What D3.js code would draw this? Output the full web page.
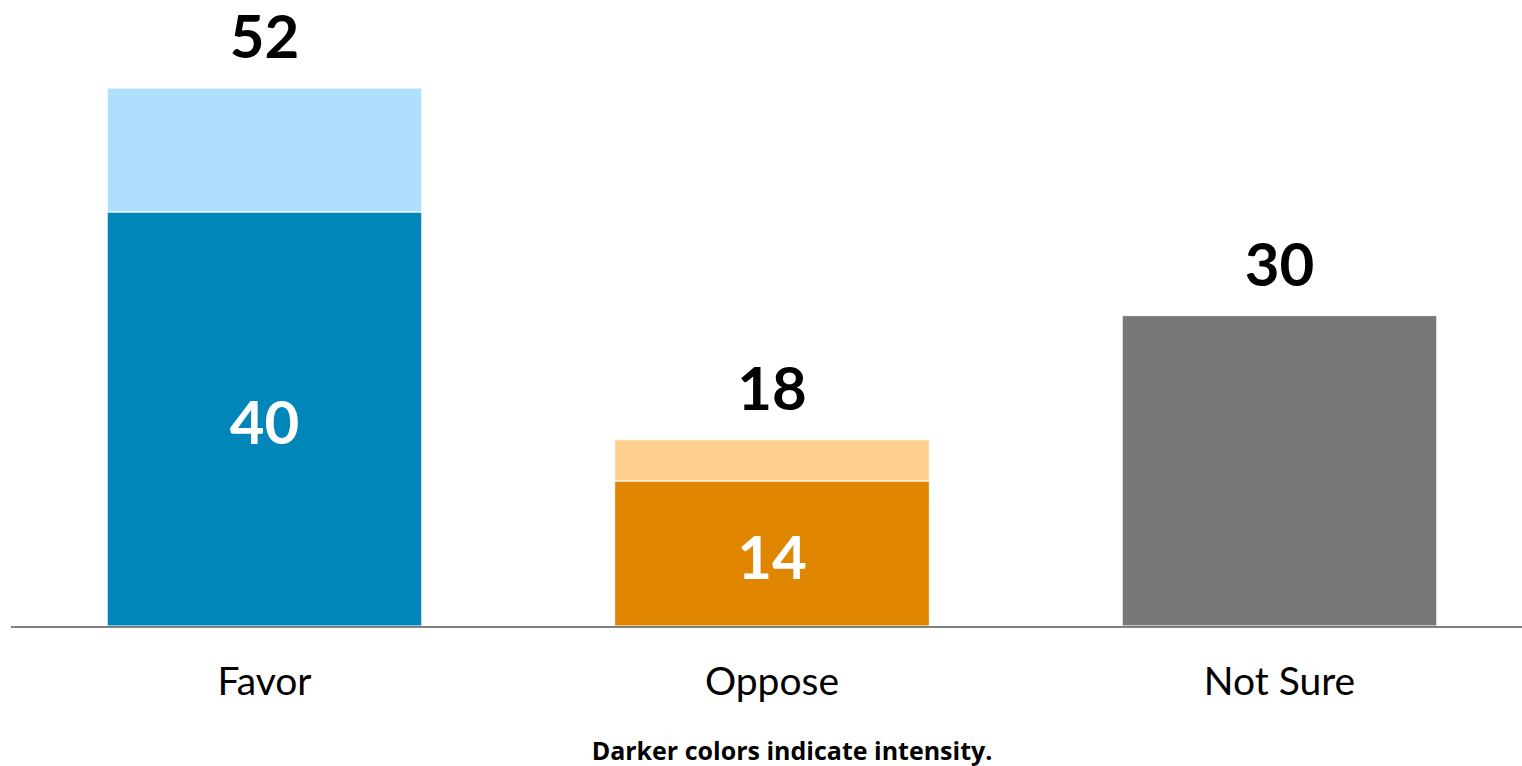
<!DOCTYPE html>
<html>
<head>
<meta charset="utf-8">
<script src="https://cdn.jsdelivr.net/npm/d3@7"></script>
<style>
  html, body { margin: 0; padding: 0; background: #fff; }
  svg { display: block; font-family: Lato, "Open Sans", sans-serif; }
</style>
</head>
<body>
<div id="chart"></div>
<script>
// Values.
const categories = ['Favor', 'Oppose', 'Not Sure'];
const intense = [40, 14, 30];   // darker segment (Not Sure has only one)
const totals = [52, 18, 30];    // full bar height
const darkColors = ['#0086b8', '#df8500', '#787878'];
const lightColors = ['#aedffd', '#ffcf8d', '#787878'];
const footnote = 'Darker colors indicate intensity.';

(function(){
  const width = 1522, height = 766;
  const svg = d3.select('#chart').append('svg')
    .attr('width', width).attr('height', height);

  const x = d3.scaleBand()
    .domain(categories)
    .range([10.75, 1533.25])
    .paddingInner(0.38)
    .paddingOuter(0.19);

  const y = d3.scaleLinear().domain([0, 52]).range([626, 88]);

  const rows = categories.map((c, i) => ({
    cat: c, dark: intense[i], total: totals[i],
    light: lightColors[i], darkC: darkColors[i], split: totals[i] !== intense[i]
  }));

  // Light (total) segment behind, dark (intense) segment on top.
  svg.selectAll('rect.total').data(rows).join('rect')
    .attr('class', 'total')
    .attr('x', d => x(d.cat))
    .attr('width', x.bandwidth())
    .attr('y', d => y(d.total))
    .attr('height', d => y(d.split ? d.dark : 0) - y(d.total))
    .attr('fill', d => d.light)
    .attr('stroke', '#fff').attr('stroke-width', 1);

  svg.selectAll('rect.dark').data(rows.filter(d => d.split)).join('rect')
    .attr('class', 'dark')
    .attr('x', d => x(d.cat))
    .attr('width', x.bandwidth())
    .attr('y', d => y(d.dark))
    .attr('height', d => y(0) - y(d.dark))
    .attr('fill', d => d.darkC)
    .attr('stroke', '#fff').attr('stroke-width', 1);

  // Baseline
  svg.append('line')
    .attr('x1', 11).attr('x2', width)
    .attr('y1', y(0) + 1).attr('y2', y(0) + 1)
    .attr('stroke', '#808080').attr('stroke-width', 2);

  // Total labels above bars
  svg.selectAll('text.total').data(rows).join('text')
    .attr('class', 'total')
    .attr('x', d => x(d.cat) + x.bandwidth() / 2)
    .attr('y', d => y(d.total) - 30)
    .attr('text-anchor', 'middle')
    .attr('font-size', 60).attr('font-weight', 700)
    .attr('fill', '#000')
    .text(d => d.total);

  // Intensity labels inside the dark segment
  svg.selectAll('text.dark').data(rows.filter(d => d.split)).join('text')
    .attr('class', 'dark')
    .attr('x', d => x(d.cat) + x.bandwidth() / 2)
    .attr('y', d => (y(d.dark) + y(0)) / 2 + 25)
    .attr('text-anchor', 'middle')
    .attr('font-size', 60).attr('font-weight', 700)
    .attr('fill', '#fff')
    .text(d => d.dark);

  // Category labels
  svg.selectAll('text.cat').data(categories).join('text')
    .attr('class', 'cat')
    .attr('x', d => x(d) + x.bandwidth() / 2)
    .attr('y', 695)
    .attr('text-anchor', 'middle')
    .attr('font-size', 39)
    .attr('fill', '#000')
    .text(d => d);

  svg.append('text')
    .attr('x', 792).attr('y', 760)
    .attr('text-anchor', 'middle')
    .attr('font-family', '"Open Sans", sans-serif')
    .attr('font-size', 25).attr('font-weight', 700)
    .attr('fill', '#000')
    .text(footnote);
})();
</script>
</body>
</html>
